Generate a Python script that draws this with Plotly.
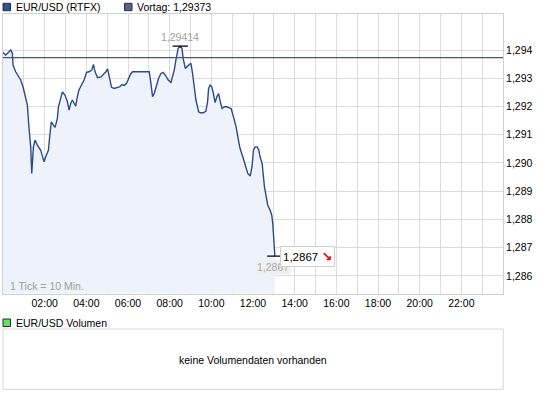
import plotly.graph_objects as go

# ---- data ----
hours = [0.00,0.13,0.29,0.37,0.45,0.48,0.61,0.77,0.85,0.96,
         1.09,1.17,1.25,1.33,1.38,1.41,1.46,1.54,1.65,1.81,
         1.89,1.97,2.05,2.18,2.24,2.32,2.42,2.50,2.61,2.66,
         2.77,2.85,2.98,3.09,3.17,3.25,3.33,3.41,3.49,3.57,
         3.64,3.78,3.89,4.01,4.13,4.26,4.34,4.42,4.54,4.70,
         4.86,4.94,5.02,5.10,5.21,5.34,5.50,5.61,5.71,5.82,
         5.93,6.03,6.14,6.22,7.02,7.10,7.18,7.26,7.34,7.47,
         7.58,7.69,7.82,7.93,8.06,8.14,8.22,8.30,8.41,8.51,
         8.59,8.65,8.75,8.86,9.02,9.10,9.18,9.26,9.39,9.47,
         9.62,9.74,9.82,9.87,9.94,10.02,10.10,10.18,10.27,10.35,
         10.43,10.51,10.63,10.74,10.87,10.95,11.06,11.19,11.30,11.38,
         11.51,11.63,11.75,11.87,11.96,12.02,12.10,12.20,12.28,12.34,
         12.44,12.55,12.63,12.71,12.82,12.90,12.95,13.00,13.03,13.05]

prices = [1.29391,1.29382,1.29394,1.29400,1.29388,1.29347,1.29323,1.29300,1.29294,1.29270,
          1.29229,1.29205,1.29122,1.29057,1.28963,1.29022,1.29057,1.29081,1.29063,1.29045,
          1.29028,1.29004,1.29022,1.29045,1.29093,1.29146,1.29134,1.29126,1.29158,1.29199,
          1.29229,1.29252,1.29240,1.29217,1.29187,1.29211,1.29223,1.29211,1.29201,1.29235,
          1.29258,1.29278,1.29294,1.29321,1.29323,1.29329,1.29349,1.29323,1.29302,1.29305,
          1.29317,1.29323,1.29333,1.29305,1.29268,1.29264,1.29266,1.29270,1.29278,1.29275,
          1.29282,1.29300,1.29317,1.29323,1.29323,1.29282,1.29235,1.29246,1.29270,1.29300,
          1.29317,1.29321,1.29308,1.29294,1.29285,1.29305,1.29329,1.29365,1.29406,1.29414,
          1.29406,1.29370,1.29335,1.29343,1.29353,1.29317,1.29270,1.29223,1.29181,1.29178,
          1.29178,1.29184,1.29217,1.29264,1.29276,1.29270,1.29246,1.29214,1.29235,1.29246,
          1.29217,1.29193,1.29199,1.29199,1.29195,1.29193,1.29164,1.29128,1.29081,1.29051,
          1.29022,1.28992,1.28963,1.28954,1.28992,1.29045,1.29057,1.29057,1.29045,1.29022,
          1.28998,1.28915,1.28880,1.28850,1.28833,1.28815,1.28785,1.28726,1.28679,1.28670]

vortag = 1.29373
day_range = [0, 24]
x_tick_hours = [2, 4, 6, 8, 10, 12, 14, 16, 18, 20, 22]
x_tick_labels = ["02:00", "04:00", "06:00", "08:00", "10:00", "12:00",
                 "14:00", "16:00", "18:00", "20:00", "22:00"]
y_tick_values = [1.286, 1.287, 1.288, 1.289, 1.290, 1.291, 1.292, 1.293, 1.294]
y_tick_labels = ["1,286", "1,287", "1,288", "1,289", "1,290", "1,291", "1,292", "1,293", "1,294"]

W, H = 545, 398
FONT = "Liberation Sans"

def px(x):
    return x / W

def py(y):
    return 1 - y / H

imax = prices.index(max(prices))
ilast = len(prices) - 1

fig = go.Figure()
fig.add_trace(go.Scatter(x=hours, y=prices, mode="lines", fill="tozeroy",
                         fillcolor="#eef2fa", line=dict(color="#2c4a8a", width=1.4),
                         hoverinfo="skip"))
fig.add_trace(go.Scatter(x=day_range, y=[vortag, vortag], mode="lines",
                         line=dict(color="#4a5275", width=1.2), hoverinfo="skip"))
fig.add_trace(go.Scatter(x=[hours[imax], hours[ilast]], y=[prices[imax], prices[ilast]],
                         mode="markers",
                         marker=dict(symbol="line-ew", size=11,
                                     line=dict(color="#000000", width=1.3)),
                         hoverinfo="skip"))

grid = "#dcdcdc"
fig.update_layout(
    width=W, height=H, margin=dict(l=0, r=0, t=0, b=0, autoexpand=False),
    paper_bgcolor="white", plot_bgcolor="white", showlegend=False,
    separators=",.",
    font=dict(family=FONT, size=10.5, color="#000000"),
    xaxis=dict(domain=[px(3), px(503)], range=day_range, automargin=False,
               tickmode="array", tickvals=x_tick_hours, ticktext=x_tick_labels,
               showgrid=True, gridcolor=grid, gridwidth=1,
               minor=dict(tickmode="linear", tick0=0, dtick=1, showgrid=True,
                          gridcolor=grid, gridwidth=1),
               showline=True, linecolor="#d0d0d0", linewidth=1, mirror=True,
               ticks="", zeroline=False, fixedrange=True,
               tickfont=dict(family=FONT, size=10.5, color="#000000")),
    yaxis=dict(domain=[py(293.5), py(14)], range=[1.285376, 1.295277], automargin=False,
               side="right", tickmode="array", tickvals=y_tick_values, ticktext=y_tick_labels,
               showgrid=True, gridcolor=grid, gridwidth=1,
               showline=True, linecolor="#d0d0d0", linewidth=1, mirror=True,
               ticks="", zeroline=False, fixedrange=True,
               tickfont=dict(family=FONT, size=10.5, color="#000000")),
)

shapes = [
    # legend squares
    dict(type="rect", xref="paper", yref="paper", x0=px(3), x1=px(10.5), y0=py(10.7), y1=py(3.3),
         fillcolor="#34508f", line=dict(color="#1c2b55", width=1)),
    dict(type="rect", xref="paper", yref="paper", x0=px(124.5), x1=px(132), y0=py(10.7), y1=py(3.3),
         fillcolor="#5a6181", line=dict(color="#2a2f44", width=1)),
    dict(type="rect", xref="paper", yref="paper", x0=px(3), x1=px(10.5), y0=py(326.5), y1=py(319),
         fillcolor="#66dd66", line=dict(color="#2a2a2a", width=1)),
    # volume panel
    dict(type="rect", xref="paper", yref="paper", x0=px(3), x1=px(503.3), y0=py(389.3), y1=py(329),
         fillcolor="white", line=dict(color="#d8d8d8", width=1)),
]
fig.update_layout(shapes=shapes)

ann = [
    dict(xref="paper", yref="paper", x=px(14), y=py(7), text="EUR/USD (RTFX)",
         xanchor="left", yanchor="middle", showarrow=False,
         font=dict(family=FONT, size=10.5, color="#000000")),
    dict(xref="paper", yref="paper", x=px(135), y=py(7), text="Vortag: 1,29373",
         xanchor="left", yanchor="middle", showarrow=False,
         font=dict(family=FONT, size=10.5, color="#000000")),
    dict(xref="paper", yref="paper", x=px(14), y=py(322.5), text="EUR/USD Volumen",
         xanchor="left", yanchor="middle", showarrow=False,
         font=dict(family=FONT, size=10.5, color="#000000")),
    dict(xref="paper", yref="paper", x=px(253), y=py(360), text="keine Volumendaten vorhanden",
         xanchor="center", yanchor="middle", showarrow=False,
         font=dict(family=FONT, size=10.5, color="#000000")),
    dict(xref="paper", yref="paper", x=px(8), y=py(286), text="1 Tick = 10 Min.",
         xanchor="left", yanchor="middle", showarrow=False,
         font=dict(family=FONT, size=10.5, color="#a0a0a0")),
    # max label
    dict(x=hours[imax], y=prices[imax], text="1,29414", xanchor="center", yanchor="bottom",
         yshift=1, showarrow=False, font=dict(family=FONT, size=10.5, color="#a0a0a0")),
    # grey end label
    dict(x=hours[ilast], y=prices[ilast], text="1,2867", xanchor="center", yanchor="top",
         yshift=-3, xshift=-2, showarrow=False, bgcolor="#f0f0f0",
         font=dict(family=FONT, size=10.5, color="#a8a8a8")),
    # last price box
    dict(x=hours[ilast], y=prices[ilast], xanchor="left", yanchor="middle", xshift=5,
         text="1,2867 <span style='color:#ee0000;font-family:DejaVu Sans;font-weight:bold;font-size:13px'>↘</span>",
         showarrow=False, bgcolor="white", bordercolor="#d0d0d0", borderwidth=1, borderpad=2,
         font=dict(family=FONT, size=11.5, color="#000000")),
]
fig.update_layout(annotations=ann)

fig.write_html("out.html", config={"displayModeBar": False},
               post_script="document.body.style.margin='0';document.body.style.overflow='hidden';")
